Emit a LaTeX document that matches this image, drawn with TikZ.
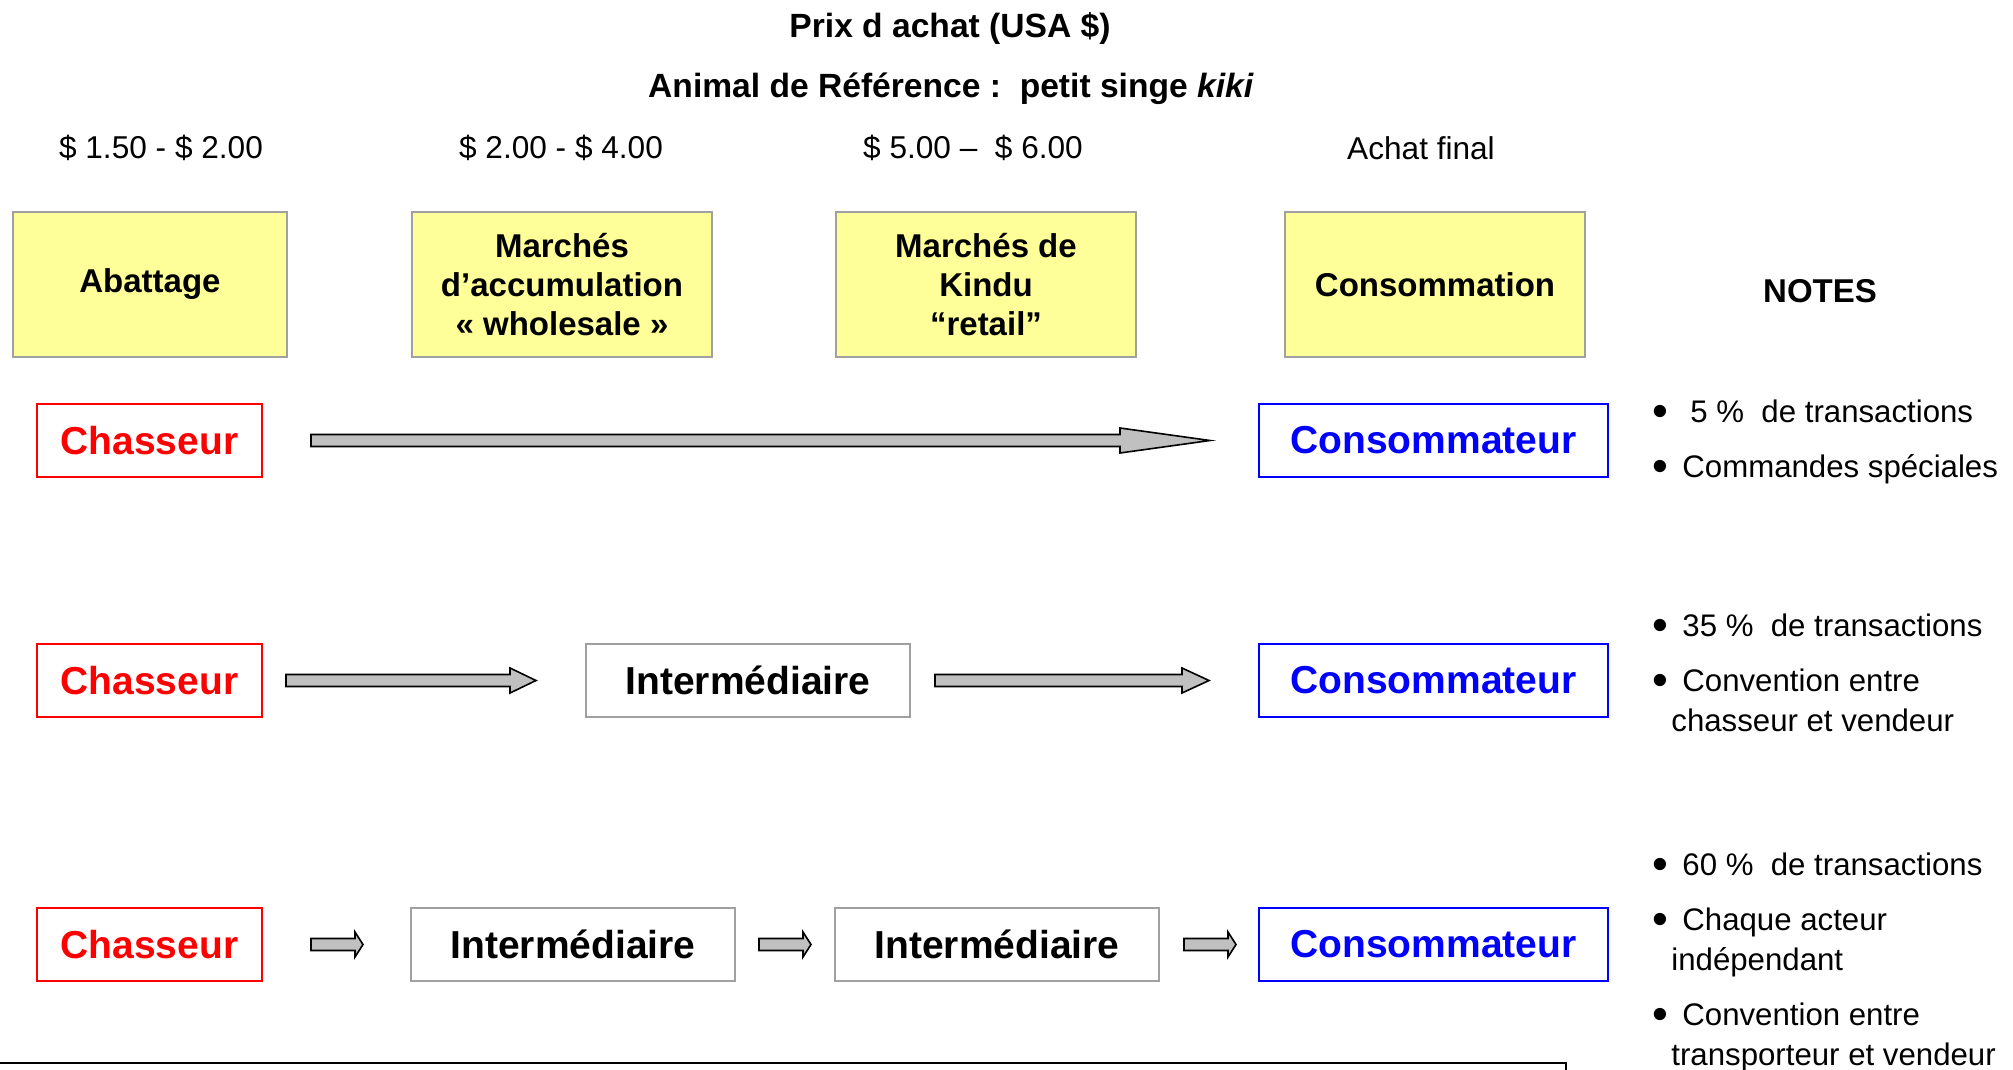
\documentclass[tikz,border=0pt]{standalone}
\usepackage{fontspec}
\setmainfont{Liberation Sans}
\usetikzlibrary{positioning,calc}

\definecolor{yellowbox}{HTML}{FFFF99}
\definecolor{arrowgray}{HTML}{C0C0C0}
\definecolor{framegray}{HTML}{A0A0A0}

\newcommand{\puce}{\makebox[15pt][l]{\raisebox{-2.4pt}{\scalebox{1.45}{\textbullet}}}}
\newcommand{\flowarrow}[3]{%
  \draw[flow] let \p1=(#1), \p2=(#2) in
    (\x1,\y1+3pt) -- (\x2-#3,\y1+3pt) -- (\x2-#3,\y1+6.25pt) -- (\x2,\y1)
    -- (\x2-#3,\y1-6.25pt) -- (\x2-#3,\y1-3pt) -- (\x1,\y1-3pt) -- cycle;}

\tikzset{
  stage/.style={draw=framegray, line width=1pt, fill=yellowbox, minimum width=150pt,
    minimum height=72.5pt, align=center, inner sep=0pt, outer sep=0pt,
    font=\fontsize{16.5}{19.5}\selectfont\bfseries},
  actor/.style={line width=1.2pt, fill=white, minimum height=36.5pt, inner sep=0pt,
    outer sep=0pt, font=\fontsize{19.5}{23}\selectfont\bfseries},
  hunter/.style={actor, draw=red, text=red, minimum width=112.5pt},
  middle/.style={actor, draw=framegray, minimum width=162pt},
  buyer/.style={actor, draw=blue, text=blue, minimum width=174.5pt},
  price/.style={font=\fontsize{15.8}{19}\selectfont},
  heading/.style={font=\fontsize{16.8}{20}\selectfont\bfseries},
  note/.style={anchor=base west, align=left, inner sep=0pt,
    font=\fontsize{15.6}{20}\selectfont},
  flow/.style={draw=black, line width=0.8pt, fill=arrowgray, line join=miter},
}

\begin{document}
\begin{tikzpicture}[x=0.5pt,y=-0.5pt]

  \useasboundingbox (0,0) rectangle (2013,1070);

  % Headings

  \node[heading] (title) at (950,29) {Prix d achat (USA \$)};
  \node[heading] (animal) at (951,89) {Animal de Référence :\ \ petit singe \textit{kiki}};

  \node[price] (p1) at (161,148) {\$ 1.50 - \$ 2.00};
  \node[price] (p2) at (561,148) {\$ 2.00 - \$ 4.00};
  \node[price] (p3) at (973,148) {\$ 5.00 –\ \ \$ 6.00};
  \node[price] (p4) at (1421,148) {Achat final};

  % Stages

  \node[stage,minimum width=137pt] (abat) at (150,284.5) {Abattage};
  \node[stage,right=62.5pt of abat] (accu) {Marchés\\d’accumulation\\« wholesale »};
  \node[stage,right=62pt of accu] (kindu) {Marchés de\\Kindu\\“retail”};
  \node[stage,right=74.5pt of kindu] (conso) {Consommation};

  \node[heading,font=\fontsize{16.5}{20}\selectfont\bfseries] (notes) at (1820,291) {NOTES};

  % Chains

  \node[hunter] (ch1) at (149.5,440.5) {Chasseur};
  \node[buyer,right=498.5pt of ch1] (co1) {Consommateur};

  \node[hunter] (ch2) at (149.5,680.5) {Chasseur};
  \node[middle,right=162pt of ch2] (im2) {Intermédiaire};
  \node[buyer,right=174.5pt of im2] (co2) {Consommateur};

  \node[hunter] (ch3) at (149.5,944.5) {Chasseur};
  \node[middle,right=74.5pt of ch3] (im31) {Intermédiaire};
  \node[middle,right=50pt of im31] (im32) {Intermédiaire};
  \node[buyer,right=50pt of im32] (co3) {Consommateur};

  % Arrows

  \flowarrow{[xshift=24.5pt]ch1.east}{[xshift=-24.5pt]co1.west}{45pt}

  \flowarrow{[xshift=12pt]ch2.east}{[xshift=-25pt]im2.west}{13pt}
  \flowarrow{[xshift=12.5pt]im2.east}{[xshift=-25pt]co2.west}{13.5pt}

  \flowarrow{[xshift=24.5pt]ch3.east}{[xshift=-24pt]im31.west}{4pt}
  \flowarrow{[xshift=12pt]im31.east}{[xshift=-12pt]im32.west}{4pt}
  \flowarrow{[xshift=12.5pt]im32.east}{[xshift=-11.5pt]co3.west}{4pt}

  % Notes (base = last line)

  \node[note] (n1) at (1652,477) {\puce\hspace{4pt}5 \%\ \ de transactions\\[7.5pt]
    \puce Commandes spéciales};
  \node[note] (n2) at (1652,731) {\puce 35 \%\ \ de transactions\\[7.5pt]
    \puce Convention entre\\ \hspace*{9.5pt}chasseur et vendeur};
  \node[note] (n3) at (1652,1065) {\puce 60 \%\ \ de transactions\\[7.5pt]
    \puce Chaque acteur\\ \hspace*{9.5pt}indépendant\\[7.5pt]
    \puce Convention entre\\ \hspace*{9.5pt}transporteur et vendeur};

  % cut-off frame at the bottom
  \draw[line width=1.2pt] (-10,1063) -- (1566,1063) -- (1566,1085);

\end{tikzpicture}
\end{document}
